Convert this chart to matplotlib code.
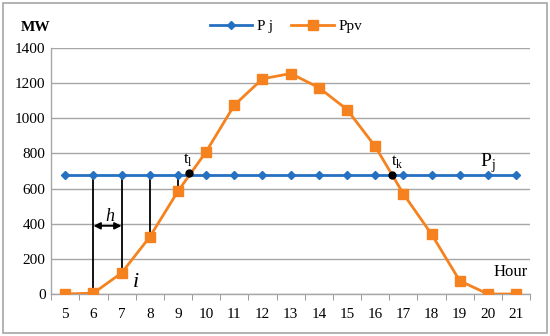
import matplotlib

matplotlib.use("Agg")
import matplotlib.pyplot as plt
from matplotlib.patches import Rectangle

hours = list(range(5, 22))
p_pv = [0, 5, 120, 325, 585, 810, 1075, 1225, 1255, 1175, 1050, 840, 570, 340, 75, 0, 0]
p_j = [675] * len(hours)
drop_hours = [6, 7, 8, 9]
t_l = 9.4
t_k = 16.61
y_ticks = [0, 200, 400, 600, 800, 1000, 1200, 1400]

blue = "#2570c0"
orange = "#f5821f"

plt.rcParams["font.family"] = ["Liberation Serif", "DejaVu Serif"]

fig = plt.figure(figsize=(5.5, 3.36), dpi=100)
ax = fig.add_axes([0.093, 0.125, 0.871, 0.732])
fig.patches.append(Rectangle((0.006, 0.009), 0.988, 0.982, transform=fig.transFigure,
                             fill=False, edgecolor="#a6a6a6", linewidth=1.2))

# vertical drops from Ppv up to Pj
for h in drop_hours:
    ax.plot([h, h], [p_pv[hours.index(h)], p_j[0]], color="black", lw=1.3, zorder=2)

ax.plot(hours, p_j, color=blue, lw=2, marker="D", ms=4.5, label="P j", zorder=3)
ax.plot(hours, p_pv, color=orange, lw=2, marker="s", ms=7, label="Ppv", zorder=3)

# crossing points
ax.plot([t_l, t_k], [p_j[0] + 12, p_j[0]], "o", color="black", ms=5, zorder=4)

ax.annotate("", xy=(6, 388), xytext=(7, 388),
            arrowprops=dict(arrowstyle="<|-|>", color="black", lw=1.3,
                            shrinkA=0, shrinkB=0, mutation_scale=10), zorder=5)
ax.text(6.6, 395, "h", fontsize=13, style="italic", ha="center", va="bottom")
ax.text(7.5, 10, "i", fontsize=16, style="italic", ha="center", va="bottom")
ax.text(9.35, 715, r"t$_\mathregular{l}$", fontsize=12, ha="center", va="bottom")
ax.text(16.8, 705, r"t$_\mathregular{k}$", fontsize=12, ha="center", va="bottom")
ax.text(20.0, 675, r"P$_\mathregular{j}$", fontsize=14, ha="center", va="bottom")
ax.text(21.4, 82, "Hour", fontsize=12, ha="right", va="bottom")
fig.text(0.065, 0.918, "MW", fontsize=11, fontweight="bold", ha="center", va="center")

ax.set_xlim(4.5, 21.5)
ax.set_ylim(0, 1400)
ax.set_xticks(hours)
ax.set_xticks([h - 0.5 for h in hours] + [21.5], minor=True)
ax.set_yticks(y_ticks)
ax.tick_params(axis="x", which="major", length=0, labelsize=11, pad=10)
ax.tick_params(axis="x", which="minor", length=4, color="#888888")
ax.tick_params(axis="y", length=0, labelsize=11, pad=4)
ax.grid(axis="y", color="#a6a6a6", lw=1)
ax.set_axisbelow(True)
for side in ["top", "right"]:
    ax.spines[side].set_visible(False)
for side in ["left", "bottom"]:
    ax.spines[side].set_color("#a6a6a6")
    ax.spines[side].set_linewidth(1)

fig.legend(loc="center", bbox_to_anchor=(0.52, 0.922), ncol=2, frameon=False,
           fontsize=11, handlelength=2.8, columnspacing=1.2, handletextpad=0.3)

fig.savefig("out.png", dpi=100)
